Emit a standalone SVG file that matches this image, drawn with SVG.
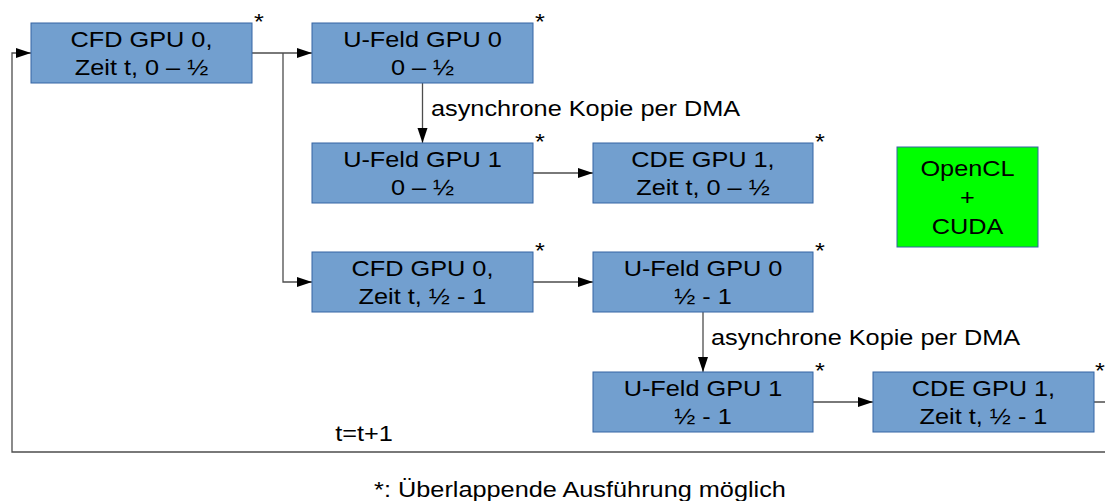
<svg xmlns="http://www.w3.org/2000/svg" width="1105" height="501" viewBox="0 0 1105 501">
<style>
text{font-family:"Liberation Sans",Arial,sans-serif;font-size:22px;fill:#000}
.c{text-anchor:middle}
.box{fill:#729fcf;stroke:#3465a4;stroke-width:1}
.green{fill:#00ff00;stroke:#3465a4;stroke-width:1}
.ln{fill:none;stroke:#4d4d4d;stroke-width:1.3}
</style>
<defs>
<marker id="ah" markerUnits="userSpaceOnUse" markerWidth="16" markerHeight="11" refX="15" refY="5" orient="auto">
<path d="M0,0 L15,5 L0,10 Z" fill="#000"/>
</marker>
</defs>
<rect width="1105" height="501" fill="#fff"/>
<g id="connectors">
<path class="ln" d="M252 53 H312" marker-end="url(#ah)"/>
<path class="ln" d="M283 53 V282 H312" marker-end="url(#ah)"/>
<path class="ln" d="M422.5 83 V143" marker-end="url(#ah)"/>
<path class="ln" d="M533 173 H593" marker-end="url(#ah)"/>
<path class="ln" d="M533 282 H593" marker-end="url(#ah)"/>
<path class="ln" d="M703 312 V372" marker-end="url(#ah)"/>
<path class="ln" d="M813 402 H873" marker-end="url(#ah)"/>
<path class="ln" d="M1094 402 H1110 V452 H12 V53 H31" marker-end="url(#ah)"/>
<text transform="translate(431,116) scale(1.15,1)">asynchrone Kopie per DMA</text>
<text transform="translate(711,345) scale(1.15,1)">asynchrone Kopie per DMA</text>
<text class="c" transform="translate(364,441) scale(1.15,1)">t=t+1</text>
</g>
<g id="n1">
<rect class="box" x="31" y="23" width="221" height="60"/>
<text class="c" transform="translate(141.5,47) scale(1.15,1)">CFD GPU 0,</text>
<text class="c" transform="translate(141.5,75) scale(1.15,1)">Zeit t, 0 – ½</text>
<text class="c" transform="translate(259,29) scale(1.15,1)">*</text>
</g>
<g id="n2">
<rect class="box" x="312" y="23" width="221" height="60"/>
<text class="c" transform="translate(422.5,47) scale(1.15,1)">U-Feld GPU 0</text>
<text class="c" transform="translate(422.5,75) scale(1.15,1)">0 – ½</text>
<text class="c" transform="translate(540,29) scale(1.15,1)">*</text>
</g>
<g id="n3">
<rect class="box" x="312" y="143" width="221" height="60"/>
<text class="c" transform="translate(422.5,167) scale(1.15,1)">U-Feld GPU 1</text>
<text class="c" transform="translate(422.5,195) scale(1.15,1)">0 – ½</text>
<text class="c" transform="translate(540,149) scale(1.15,1)">*</text>
</g>
<g id="n4">
<rect class="box" x="593" y="143" width="220" height="60"/>
<text class="c" transform="translate(703,167) scale(1.15,1)">CDE GPU 1,</text>
<text class="c" transform="translate(703,195) scale(1.15,1)">Zeit t, 0 – ½</text>
<text class="c" transform="translate(820,149) scale(1.15,1)">*</text>
</g>
<g id="n5">
<rect class="box" x="312" y="252" width="221" height="60"/>
<text class="c" transform="translate(422.5,276) scale(1.15,1)">CFD GPU 0,</text>
<text class="c" transform="translate(422.5,304) scale(1.15,1)">Zeit t, ½ - 1</text>
<text class="c" transform="translate(540,258) scale(1.15,1)">*</text>
</g>
<g id="n6">
<rect class="box" x="593" y="252" width="220" height="60"/>
<text class="c" transform="translate(703,276) scale(1.15,1)">U-Feld GPU 0</text>
<text class="c" transform="translate(703,304) scale(1.15,1)">½ - 1</text>
<text class="c" transform="translate(820,258) scale(1.15,1)">*</text>
</g>
<g id="n7">
<rect class="box" x="593" y="372" width="220" height="60"/>
<text class="c" transform="translate(703,396) scale(1.15,1)">U-Feld GPU 1</text>
<text class="c" transform="translate(703,424) scale(1.15,1)">½ - 1</text>
<text class="c" transform="translate(820,378) scale(1.15,1)">*</text>
</g>
<g id="n8">
<rect class="box" x="873" y="372" width="221" height="60"/>
<text class="c" transform="translate(983.5,396) scale(1.15,1)">CDE GPU 1,</text>
<text class="c" transform="translate(983.5,424) scale(1.15,1)">Zeit t, ½ - 1</text>
<text class="c" transform="translate(1100,378) scale(1.15,1)">*</text>
</g>
<g id="legend">
<rect class="green" x="897" y="147" width="141" height="100"/>
<text class="c" transform="translate(967.5,176) scale(1.15,1)">OpenCL</text>
<text class="c" transform="translate(967.5,205) scale(1.15,1)">+</text>
<text class="c" transform="translate(967.5,234) scale(1.15,1)">CUDA</text>
</g>
<g id="footnote">
<text class="c" transform="translate(580,497) scale(1.15,1)">*: Überlappende Ausführung möglich</text>
</g>
</svg>
